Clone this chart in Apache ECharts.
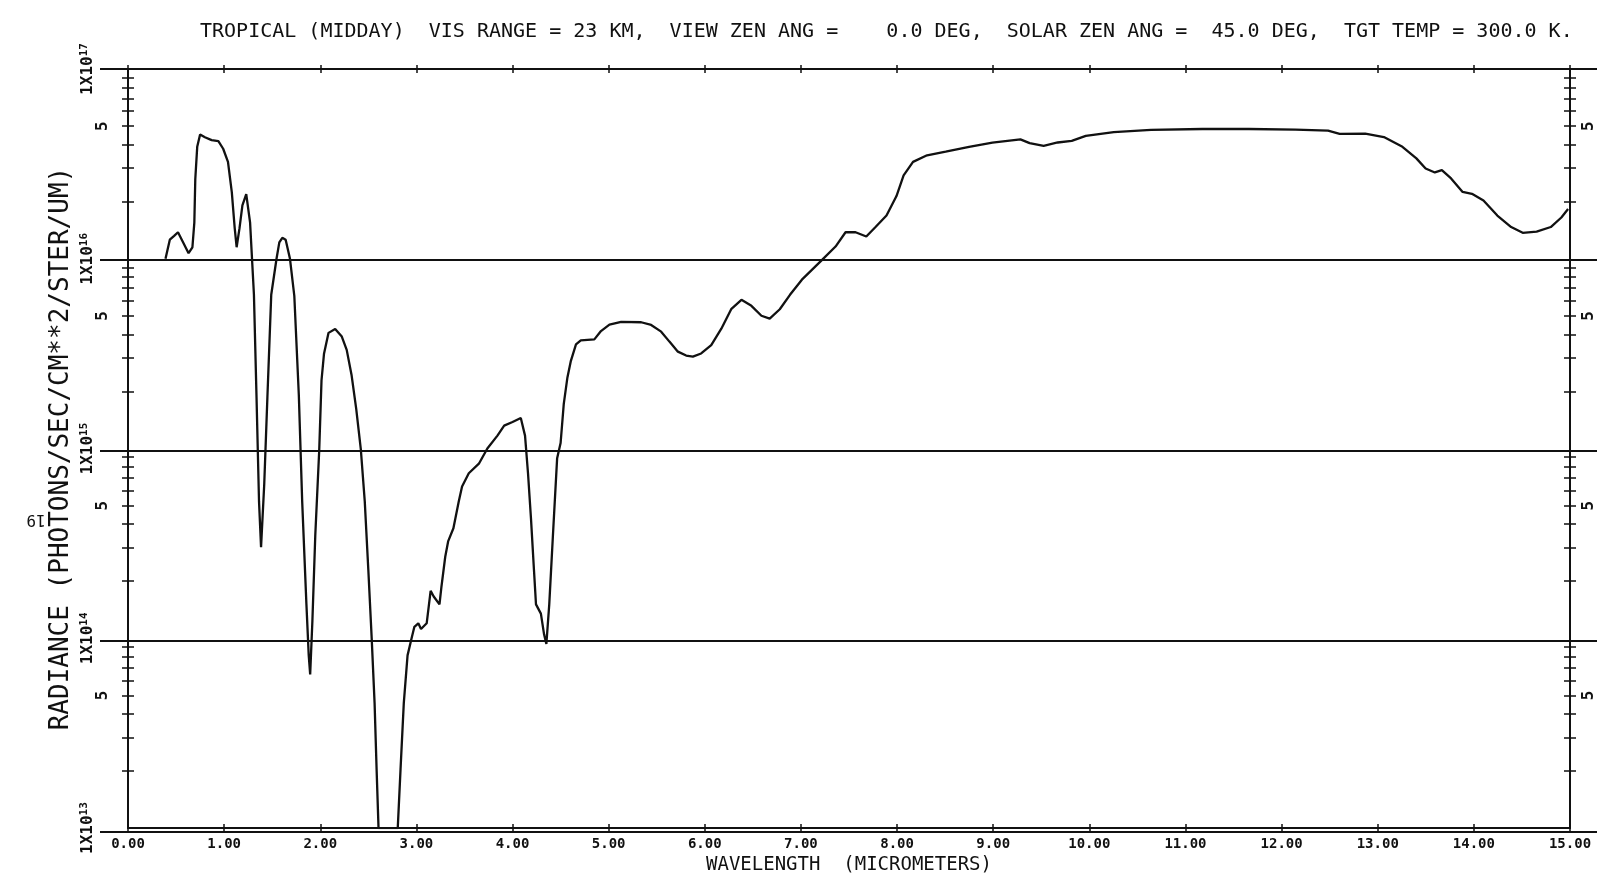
<!DOCTYPE html>
<html><head><meta charset="utf-8">
<script src="https://cdn.jsdelivr.net/npm/echarts@6/dist/echarts.min.js"></script>
<style>html,body{margin:0;padding:0;background:#fff}#c{width:1611px;height:880px}</style>
</head><body><div id="c"></div>
<script>
// ---- data (wavelength in micrometers, radiance in photons/sec/cm^2/ster/um) ----
const wavelength = [
  0.39, 0.435, 0.48, 0.52, 0.57, 0.63, 0.67, 0.69, 0.70, 0.72,
  0.75, 0.80, 0.87, 0.94, 0.99, 1.04, 1.08, 1.11, 1.13, 1.16,
  1.19, 1.23, 1.27, 1.29, 1.31, 1.337, 1.363, 1.384, 1.417, 1.45,
  1.49, 1.545, 1.574, 1.605, 1.64, 1.685, 1.73, 1.777, 1.812, 1.856,
  1.88, 1.895, 1.918, 1.948, 1.989, 2.013, 2.039, 2.086, 2.155, 2.224,
  2.275, 2.325, 2.374, 2.422, 2.463, 2.50, 2.535, 2.565, 2.586, 2.606,
  2.806, 2.835, 2.869, 2.908, 2.95, 2.979, 3.02, 3.048, 3.107, 3.148,
  3.18, 3.24, 3.26, 3.30, 3.33, 3.385, 3.44, 3.475, 3.545, 3.65,
  3.738, 3.843, 3.913, 4.0, 4.086, 4.13, 4.161, 4.192, 4.223, 4.244,
  4.295, 4.328, 4.352, 4.382, 4.42, 4.464, 4.50, 4.533, 4.571, 4.607,
  4.66, 4.71, 4.851, 4.92, 5.008, 5.13, 5.338, 5.442, 5.546, 5.632,
  5.72, 5.806, 5.876, 5.962, 6.067, 6.172, 6.277, 6.381, 6.485, 6.589,
  6.675, 6.78, 6.886, 7.01, 7.22, 7.36, 7.464, 7.568, 7.68, 7.776,
  7.89, 7.994, 8.068, 8.166, 8.312, 8.506, 8.749, 8.992, 9.283, 9.379,
  9.525, 9.671, 9.817, 9.963, 10.254, 10.642, 11.175, 11.66, 12.144, 12.483,
  12.604, 12.87, 13.064, 13.257, 13.402, 13.498, 13.594, 13.667, 13.763, 13.883,
  13.98, 14.1, 14.244, 14.388, 14.508, 14.653, 14.8, 14.91, 14.98
];
const radiance = [
  1.0e16, 1.26e16, 1.32e16, 1.38e16, 1.23e16, 1.07e16, 1.15e16, 1.55e16, 2.63e16, 3.89e16,
  4.52e16, 4.37e16, 4.22e16, 4.17e16, 3.80e16, 3.24e16, 2.24e16, 1.45e16, 1.15e16, 1.45e16,
  1.91e16, 2.19e16, 1.55e16, 1.0e16, 6.46e15, 1.86e15, 5.25e14, 3.02e14, 6.46e14, 1.86e15,
  6.46e15, 1.0e16, 1.22e16, 1.29e16, 1.26e16, 1.0e16, 6.38e15, 1.91e15, 5.25e14, 1.51e14,
  8.13e13, 6.46e13, 1.23e14, 3.47e14, 9.77e14, 2.29e15, 3.16e15, 4.07e15, 4.27e15, 3.89e15,
  3.31e15, 2.45e15, 1.62e15, 9.89e14, 5.25e14, 2.29e14, 1.0e14, 4.57e13, 2.04e13, 1.0e13,
  1.0e13, 2.04e13, 4.57e13, 8.13e13, 1.0e14, 1.15e14, 1.20e14, 1.12e14, 1.20e14, 1.78e14,
  1.66e14, 1.51e14, 1.86e14, 2.69e14, 3.24e14, 3.80e14, 5.25e14, 6.31e14, 7.41e14, 8.32e14,
  1.0e15, 1.17e15, 1.32e15, 1.38e15, 1.45e15, 1.17e15, 7.41e14, 4.27e14, 2.29e14, 1.51e14,
  1.35e14, 1.05e14, 9.33e13, 1.51e14, 3.47e14, 8.9e14, 1.07e15, 1.72e15, 2.37e15, 2.90e15,
  3.54e15, 3.72e15, 3.76e15, 4.16e15, 4.50e15, 4.65e15, 4.63e15, 4.48e15, 4.13e15, 3.66e15,
  3.24e15, 3.09e15, 3.05e15, 3.17e15, 3.51e15, 4.28e15, 5.45e15, 6.08e15, 5.65e15, 5.01e15,
  4.84e15, 5.42e15, 6.46e15, 7.76e15, 9.86e15, 1.16e16, 1.38e16, 1.38e16, 1.31e16, 1.47e16,
  1.69e16, 2.14e16, 2.75e16, 3.24e16, 3.51e16, 3.67e16, 3.89e16, 4.09e16, 4.26e16, 4.07e16,
  3.94e16, 4.10e16, 4.18e16, 4.44e16, 4.65e16, 4.78e16, 4.83e16, 4.83e16, 4.79e16, 4.73e16,
  4.55e16, 4.57e16, 4.38e16, 3.89e16, 3.38e16, 2.99e16, 2.85e16, 2.93e16, 2.65e16, 2.25e16,
  2.20e16, 2.03e16, 1.69e16, 1.47e16, 1.37e16, 1.39e16, 1.47e16, 1.65e16, 1.83e16
];
const xTickLabels = ['0.00','1.00','2.00','3.00','4.00','5.00','6.00','7.00','8.00','9.00',
                     '10.00','11.00','12.00','13.00','14.00','15.00'];
const decadeExponents = [13, 14, 15, 16, 17];
const minorMantissas = [2, 3, 4, 5, 6, 7, 8, 9];
const labeledMantissas = [5];
const titleText = 'TROPICAL (MIDDAY)  VIS RANGE = 23 KM,  VIEW ZEN ANG =    0.0 DEG,  SOLAR ZEN ANG =  45.0 DEG,  TGT TEMP = 300.0 K.';
const xAxisTitle = 'WAVELENGTH  (MICROMETERS)';
const yAxisTitle = 'RADIANCE (PHOTONS/SEC/CM**2/STER/UM)';
const pageNumber = '19';

// ---- chart ----
const FONT = 'DejaVu Sans Mono';
const INK = '#111';
const minorPos = [];
const fivePos = [];
decadeExponents.slice(0, -1).forEach(n => {
  minorMantissas.forEach(m => minorPos.push(n + Math.log10(m)));
  labeledMantissas.forEach(m => fivePos.push(n + Math.log10(m)));
});

const G = { left: 128, right: 41, top: 69, bottom: 48 };
const chart = echarts.init(document.getElementById('c'), null, { renderer: 'canvas' });

function auxY(position, inside, withLabels, margin, showLine) {
  return {
    type: 'value', gridIndex: 0, min: 13, max: 17, position: position,
    axisLine: { show: !!showLine, onZero: false, lineStyle: { color: INK, width: 2 } },
    splitLine: { show: false },
    axisTick: { show: true, inside: inside, length: 6, customValues: minorPos,
      lineStyle: { color: INK, width: 1.5 } },
    axisLabel: { show: withLabels, customValues: fivePos, formatter: () => '5',
      rotate: 90, margin: margin, fontFamily: FONT, fontSize: 16, fontWeight: 'bold', color: INK }
  };
}
function auxX(position, inside, len) {
  return {
    type: 'value', gridIndex: 0, min: 0, max: 15, interval: 1, position: position,
    axisLine: { show: false, onZero: false }, splitLine: { show: false }, axisLabel: { show: false },
    axisTick: { show: true, inside: inside, length: len, lineStyle: { color: INK, width: 1.5 } }
  };
}

chart.setOption({
  animation: false,
  backgroundColor: '#fff',
  title: {
    text: titleText, left: 195, top: 17,
    textStyle: { fontFamily: FONT, fontSize: 20, fontWeight: 'normal', color: INK }
  },
  graphic: [{
    type: 'text', x: 36, y: 519, rotation: Math.PI,
    style: { text: pageNumber, font: '16px "DejaVu Sans Mono"', fill: INK,
      textAlign: 'center', textVerticalAlign: 'middle' }
  }],
  grid: [
    { left: G.left, right: G.right, top: G.top, bottom: G.bottom, containLabel: false },
    { left: 100, right: 14, top: G.top, bottom: G.bottom, containLabel: false }
  ],
  xAxis: [
    {
      type: 'value', gridIndex: 0, min: 0, max: 15, interval: 1, position: 'bottom',
      name: xAxisTitle, nameLocation: 'middle', nameGap: 26,
      nameTextStyle: { fontFamily: FONT, fontSize: 19, color: INK },
      axisLine: { show: true, onZero: false, lineStyle: { color: INK, width: 2 } },
      axisTick: { show: true, inside: false, length: 4, lineStyle: { color: INK, width: 1.5 } },
      splitLine: { show: false },
      axisLabel: { formatter: v => xTickLabels[Math.round(v)], margin: 9,
        fontFamily: FONT, fontSize: 14, fontWeight: 'bold', color: INK }
    },
    auxX('bottom', true, 4),
    auxX('top', true, 4),
    auxX('top', false, 4),
    { type: 'value', gridIndex: 1, min: 0, max: 1, show: false, axisLine: { onZero: false } }
  ],
  yAxis: [
    {
      type: 'log', gridIndex: 0, min: 1e13, max: 1e17, logBase: 10, position: 'left',
      name: yAxisTitle, nameLocation: 'middle', nameGap: 54, nameRotate: 90, nameMoveOverlap: false,
      nameTextStyle: { fontFamily: FONT, fontSize: 26, color: INK },
      axisLine: { show: true, onZero: false, lineStyle: { color: INK, width: 2 } },
      axisTick: { show: false }, splitLine: { show: false },
      axisLabel: {
        rotate: 90, margin: 31, color: INK,
        formatter: v => '1X10{s|' + decadeExponents[Math.round(Math.log10(v)) - decadeExponents[0]] + '}',
        rich: { s: { fontFamily: FONT, fontSize: 11, fontWeight: 'bold', color: INK, verticalAlign: 'top', padding: [0, 0, 7, 0] } },
        fontFamily: FONT, fontSize: 16, fontWeight: 'bold'
      }
    },
    auxY('left', false, true, 17, false),
    auxY('left', true, false, 0, false),
    auxY('right', false, true, 11, true),
    auxY('right', true, false, 0, false),
    {
      type: 'log', gridIndex: 1, min: 1e13, max: 1e17, logBase: 10,
      axisLine: { show: false, onZero: false }, axisTick: { show: false }, axisLabel: { show: false },
      splitLine: { show: true, lineStyle: { color: INK, width: 2 } }
    }
  ],
  series: [{
    type: 'line', xAxisIndex: 0, yAxisIndex: 0,
    data: wavelength.map((w, i) => [w, radiance[i]]),
    showSymbol: false, symbol: 'none', smooth: false, clip: true,
    lineStyle: { color: INK, width: 2.3 }, z: 5
  }]
});
</script>
</body></html>
